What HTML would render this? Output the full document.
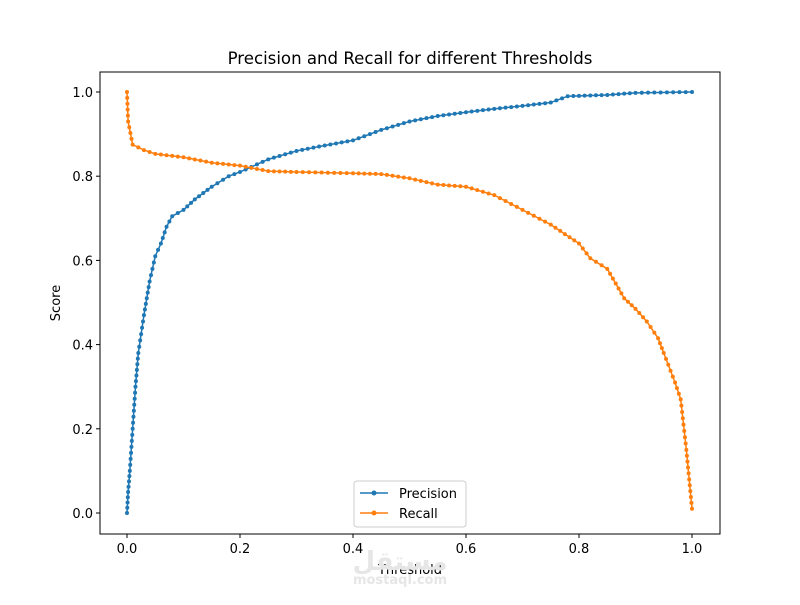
<!DOCTYPE html>
<html><head><meta charset="utf-8"><style>
body{margin:0;background:#fff}
svg text{font-family:"DejaVu Sans","Liberation Sans",sans-serif;fill:#000}
</style></head><body>
<svg id="s" width="800" height="600" xmlns="http://www.w3.org/2000/svg">
<rect width="800" height="600" fill="#fff"/>
<text x="410" y="64" font-size="16.6" text-anchor="middle">Precision and Recall for different Thresholds</text>
<rect x="100" y="72" width="620" height="462" fill="none" stroke="#000" stroke-width="1"/>
<g id="ticks" font-size="13"></g>
<text x="410" y="574" font-size="13" text-anchor="middle">Threshold</text>
<text x="0" y="0" font-size="13" text-anchor="middle" transform="translate(60,303) rotate(-90)">Score</text>
<g id="plot"></g>
<g>
<rect x="354" y="481" width="112" height="46" rx="3" fill="#fff" stroke="#ccc"/>
<line x1="360" y1="493" x2="388" y2="493" stroke="#1f77b4" stroke-width="1.5"/><circle cx="374" cy="493" r="2.5" fill="#1f77b4"/>
<text x="399" y="498" font-size="13">Precision</text>
<line x1="360" y1="513" x2="388" y2="513" stroke="#ff7f0e" stroke-width="1.5"/><circle cx="374" cy="513" r="2.5" fill="#ff7f0e"/>
<text x="399" y="518" font-size="13">Recall</text>
</g>
<text x="400" y="570" font-size="26" style="fill:#e6e6e6" text-anchor="middle" font-weight="bold">مستقل</text>
<text x="400" y="584" font-size="13" style="fill:#e6e6e6" text-anchor="middle" font-weight="bold">mostaql.com</text>
</svg>
<script>
const NS="http://www.w3.org/2000/svg";
const X=t=>127+t*565, Y=v=>513-v*421;
const tk=document.getElementById('ticks');
function el(n,a,p){const e=document.createElementNS(NS,n);for(const k in a)e.setAttribute(k,a[k]);p.appendChild(e);return e;}
for(let i=0;i<=5;i++){const v=i*0.2;
 el('line',{x1:X(v),x2:X(v),y1:534,y2:538,stroke:'#000'},tk);
 el('text',{x:X(v),y:553,'text-anchor':'middle'},tk).textContent=v.toFixed(1);
 el('line',{x1:96,x2:100,y1:Y(v),y2:Y(v),stroke:'#000'},tk);
 el('text',{x:93,y:Y(v)+5,'text-anchor':'end'},tk).textContent=v.toFixed(1);}
const P=[[0,0],[0.002,0.05],[0.005,0.1],[0.01,0.2],[0.015,0.3],[0.02,0.38],[0.03,0.47],[0.04,0.55],[0.05,0.61],[0.06,0.64],[0.07,0.68],[0.08,0.705],[0.1,0.72],[0.12,0.745],[0.15,0.775],[0.18,0.8],[0.2,0.81],[0.25,0.84],[0.3,0.86],[0.35,0.873],[0.4,0.885],[0.45,0.91],[0.5,0.93],[0.55,0.943],[0.6,0.952],[0.65,0.96],[0.7,0.967],[0.75,0.975],[0.78,0.99],[0.85,0.993],[0.9,0.998],[1,1]];
const R=[[0,1],[0.002,0.93],[0.01,0.875],[0.03,0.862],[0.05,0.853],[0.1,0.845],[0.15,0.832],[0.2,0.825],[0.25,0.812],[0.3,0.81],[0.4,0.807],[0.45,0.805],[0.5,0.795],[0.55,0.78],[0.6,0.775],[0.65,0.755],[0.7,0.72],[0.75,0.685],[0.8,0.64],[0.82,0.605],[0.85,0.58],[0.88,0.51],[0.9,0.485],[0.92,0.455],[0.94,0.415],[0.95,0.38],[0.97,0.31],[0.98,0.27],[0.99,0.15],[1,0.01]];
const g=document.getElementById('plot');
function draw(D,c){
 el('polyline',{points:D.map(p=>X(p[0])+','+Y(p[1])).join(' '),fill:'none',stroke:c,'stroke-width':1.5},g);
 for(let i=0;i<D.length-1;i++){const x1=X(D[i][0]),y1=Y(D[i][1]),x2=X(D[i+1][0]),y2=Y(D[i+1][1]);
  const n=Math.max(1,Math.round(Math.hypot(x2-x1,y2-y1)/6));
  for(let k=0;k<n;k++){const f=k/n;el('circle',{cx:x1+(x2-x1)*f,cy:y1+(y2-y1)*f,r:2,fill:c},g);}}
 el('circle',{cx:X(D[D.length-1][0]),cy:Y(D[D.length-1][1]),r:2,fill:c},g);}
draw(P,'#1f77b4');draw(R,'#ff7f0e');
</script>
</body></html>
